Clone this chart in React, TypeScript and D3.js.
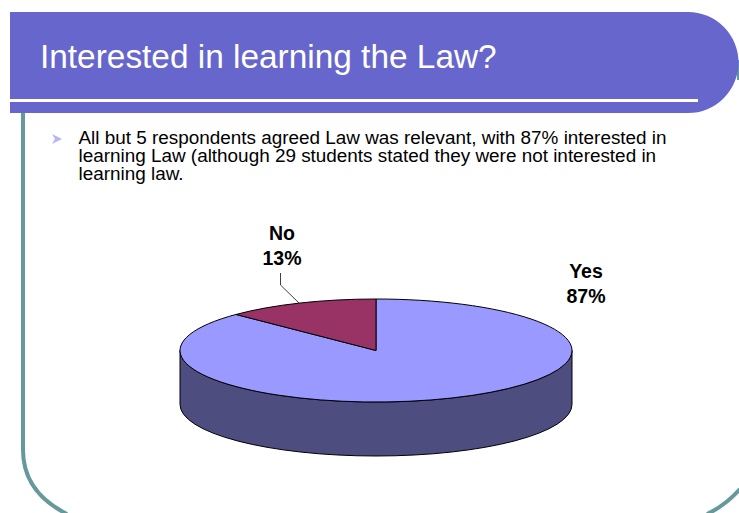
import React from "react";
import * as d3 from "d3";

const titleText = "Interested in learning the Law?";
const bodyLines = [
  "All but 5 respondents agreed Law was relevant, with 87% interested in",
  "learning Law (although 29 students stated they were not interested in",
  "learning law.",
];
const categories = ["Yes", "No"];
const values = [200, 29];
const colors = ["#9999ff", "#993366"];

const cx = 376, cy = 350.5, rx = 196, ry = 51.5, depth = 54;
const sans = "'Liberation Sans', Arial, sans-serif";

export default function App() {
  const pie = d3.pie<number>().sort(null).startAngle(0).endAngle(2 * Math.PI);
  const arcs = pie(values);
  const arc = d3.arc<d3.PieArcDatum<number>>().innerRadius(0).outerRadius(rx);
  const total = d3.sum(values);
  const side = `M${cx - rx},${cy}A${rx},${ry} 0 0 0 ${cx + rx},${cy}L${cx + rx},${cy + depth}A${rx},${ry} 0 0 1 ${cx - rx},${cy + depth}Z`;
  const pct = (i: number) => `${Math.round((values[i] / total) * 100)}%`;
  return (
    <svg width={739} height={513} style={{ position: "fixed", left: 0, top: 0, background: "#fff" }}>
      <path d="M23,113V450C23,485 45,503 67,514" fill="none" stroke="#669999" strokeWidth={4} />
      <path d="M707,514C720,508 732,498 740,489" fill="none" stroke="#669999" strokeWidth={4} />
      <path d="M738,60V80" fill="none" stroke="#669999" strokeWidth={2} />
      <path d="M10,12H688A50.5,50.5 0 0 1 688,113H10Z" fill="#6666cc" />
      <rect x={10} y={99} width={688} height={3} fill="#fff" />
      <text x={40} y={67.5} fontFamily={sans} fontSize={33.4} fill="#fff">{titleText}</text>
      <path d="M52,134L62,139L52,144L55,139Z" fill="#b3b3ff" />
      {bodyLines.map((t, i) => (
        <text key={i} x={78.500} y={144 + i * 18} fontFamily={sans} fontSize={18.9} fill="#000">{t}</text>
      ))}
      <path d={side} fill="#4d4d80" stroke="#000" strokeWidth={1} />
      <g transform={`translate(${cx},${cy}) scale(1,${ry / rx})`}>
        {arcs.map((a, i) => (
          <path key={categories[i]} d={arc(a) ?? ""} fill={colors[i]} stroke="#000" strokeWidth={1} vectorEffect="non-scaling-stroke" />
        ))}
      </g>
      <path d="M280.500,273V285L299,303" fill="none" stroke="#000" strokeWidth={0.75} />
      {[{ i: 1, x: 282, y: 240 }, { i: 0, x: 586, y: 278 }].map(({ i, x, y }) => (
        <text key={i} x={x} textAnchor="middle" fontFamily={sans} fontSize={19.5} fontWeight="bold" fill="#000">
          <tspan x={x} y={y}>{categories[i]}</tspan>
          <tspan x={x} y={y + 25}>{pct(i)}</tspan>
        </text>
      ))}
    </svg>
  );
}
